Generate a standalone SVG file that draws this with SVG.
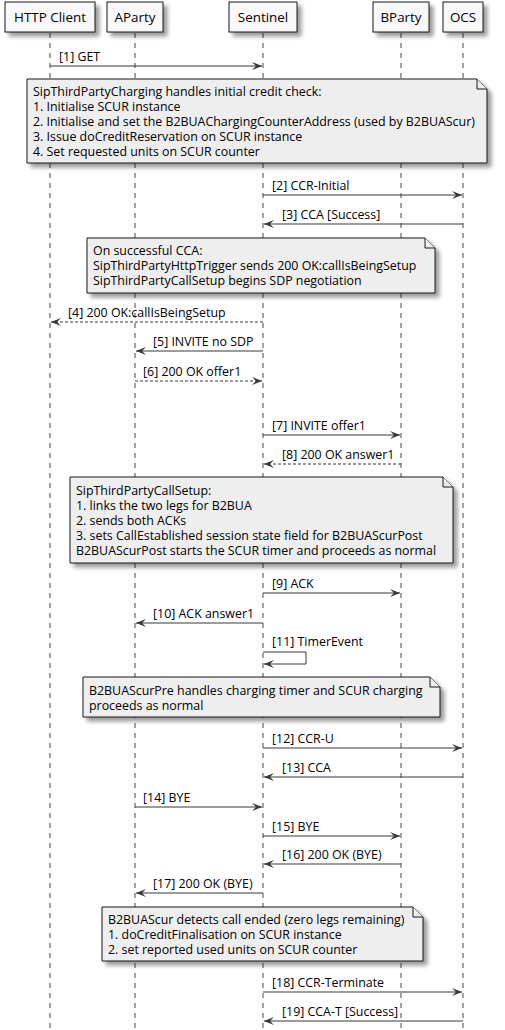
<svg xmlns="http://www.w3.org/2000/svg" width="505" height="1030" viewBox="0 0 505 1030">
<style>
text{font-family:"Open Sans","Noto Sans","DejaVu Sans",sans-serif;fill:#000}
.pt{font-size:13.4px;text-anchor:middle}
.msg{font-size:12.4px}
.nt{font-size:12.4px}
.pbox{fill:#F8F8F8;stroke:#181818;stroke-width:1}
.note{fill:#EEEEEE;stroke:#181818;stroke-width:1}
.life{stroke:#181818;stroke-width:0.8;stroke-dasharray:5,5;fill:none}
.ln{stroke:#383838;stroke-width:1;fill:none}
.dl{stroke:#383838;stroke-width:1;fill:none;stroke-dasharray:3,2}
</style>
<defs>
<filter id="sh" x="-10%" y="-10%" width="130%" height="140%">
<feGaussianBlur in="SourceAlpha" stdDeviation="2"/>
<feOffset dx="4" dy="4" result="b"/>
<feComponentTransfer><feFuncA type="linear" slope="0.4"/></feComponentTransfer>
<feMerge><feMergeNode/><feMergeNode in="SourceGraphic"/></feMerge>
</filter>
<marker id="ar" markerWidth="12" markerHeight="10" refX="10" refY="5" orient="auto" markerUnits="userSpaceOnUse">
<path d="M0,1 L10,5 L0,9 L4,5 Z" fill="#383838"/>
</marker>
</defs>

<g id="lifelines">
<line class="life" x1="50" y1="33" x2="50" y2="1030"/>
<line class="life" x1="135" y1="33" x2="135" y2="1030"/>
<line class="life" x1="263" y1="33" x2="263" y2="1030"/>
<line class="life" x1="401" y1="33" x2="401" y2="1030"/>
<line class="life" x1="463" y1="33" x2="463" y2="1030"/>
</g>

<g id="p-http"><rect class="pbox" filter="url(#sh)" x="5" y="2" width="90" height="30"/><text class="pt" x="50" y="22">HTTP Client</text></g>
<g id="p-aparty"><rect class="pbox" filter="url(#sh)" x="107" y="2" width="56" height="30"/><text class="pt" x="135" y="22">AParty</text></g>
<g id="p-sentinel"><rect class="pbox" filter="url(#sh)" x="229" y="2" width="68" height="30"/><text class="pt" x="263" y="22">Sentinel</text></g>
<g id="p-bparty"><rect class="pbox" filter="url(#sh)" x="373" y="2" width="56" height="30"/><text class="pt" x="401" y="22">BParty</text></g>
<g id="p-ocs"><rect class="pbox" filter="url(#sh)" x="443" y="2" width="40" height="30"/><text class="pt" x="463" y="22">OCS</text></g>

<g id="connectors">
<line class="ln" x1="50" y1="66" x2="262" y2="66" marker-end="url(#ar)"/>
<text class="msg" x="59" y="61">[1] GET</text>

<line class="ln" x1="263" y1="195" x2="462" y2="195" marker-end="url(#ar)"/>
<text class="msg" x="272" y="190">[2] CCR-Initial</text>
<line class="ln" x1="463" y1="224" x2="264" y2="224" marker-end="url(#ar)"/>
<text class="msg" x="282" y="219">[3] CCA [Success]</text>

<line class="dl" x1="263" y1="322" x2="51" y2="322" marker-end="url(#ar)"/>
<text class="msg" x="68" y="317">[4] 200 OK:callIsBeingSetup</text>
<line class="ln" x1="263" y1="351" x2="136" y2="351" marker-end="url(#ar)"/>
<text class="msg" x="153" y="346">[5] INVITE no SDP</text>
<line class="dl" x1="135" y1="381" x2="262" y2="381" marker-end="url(#ar)"/>
<text class="msg" x="143" y="376">[6] 200 OK offer1</text>
<line class="ln" x1="263" y1="435" x2="400" y2="435" marker-end="url(#ar)"/>
<text class="msg" x="272" y="430">[7] INVITE offer1</text>
<line class="dl" x1="401" y1="464" x2="264" y2="464" marker-end="url(#ar)"/>
<text class="msg" x="282" y="459">[8] 200 OK answer1</text>

<line class="ln" x1="263" y1="593" x2="400" y2="593" marker-end="url(#ar)"/>
<text class="msg" x="272" y="588">[9] ACK</text>
<line class="ln" x1="263" y1="623" x2="136" y2="623" marker-end="url(#ar)"/>
<text class="msg" x="153" y="618">[10] ACK answer1</text>
<polyline class="ln" points="263,652 306,652 306,664 264,664" marker-end="url(#ar)"/>
<text class="msg" x="272" y="646">[11] TimerEvent</text>

<line class="ln" x1="263" y1="748" x2="462" y2="748" marker-end="url(#ar)"/>
<text class="msg" x="272" y="743">[12] CCR-U</text>
<line class="ln" x1="463" y1="777" x2="264" y2="777" marker-end="url(#ar)"/>
<text class="msg" x="282" y="772">[13] CCA</text>
<line class="ln" x1="135" y1="807" x2="262" y2="807" marker-end="url(#ar)"/>
<text class="msg" x="143" y="802">[14] BYE</text>
<line class="ln" x1="263" y1="836" x2="400" y2="836" marker-end="url(#ar)"/>
<text class="msg" x="272" y="831">[15] BYE</text>
<line class="ln" x1="401" y1="864" x2="264" y2="864" marker-end="url(#ar)"/>
<text class="msg" x="282" y="859">[16] 200 OK (BYE)</text>
<line class="ln" x1="263" y1="893" x2="136" y2="893" marker-end="url(#ar)"/>
<text class="msg" x="153" y="888">[17] 200 OK (BYE)</text>

<line class="ln" x1="263" y1="992" x2="462" y2="992" marker-end="url(#ar)"/>
<text class="msg" x="272" y="987">[18] CCR-Terminate</text>
<line class="ln" x1="463" y1="1021" x2="264" y2="1021" marker-end="url(#ar)"/>
<text class="msg" x="282" y="1016">[19] CCA-T [Success]</text>
</g>

<g id="note1">
<path class="note" filter="url(#sh)" d="M27,79 L477,79 L487,89 L487,163 L27,163 Z"/>
<path class="note" d="M477,79 L477,89 L487,89"/>
<text class="nt" x="33" y="96">SipThirdPartyCharging handles initial credit check:</text>
<text class="nt" x="33" y="111">1. Initialise SCUR instance</text>
<text class="nt" x="33" y="126">2. Initialise and set the B2BUAChargingCounterAddress (used by B2BUAScur)</text>
<text class="nt" x="33" y="141">3. Issue doCreditReservation on SCUR instance</text>
<text class="nt" x="33" y="156">4. Set requested units on SCUR counter</text>
</g>

<g id="note2">
<path class="note" filter="url(#sh)" d="M87,238 L425,238 L435,248 L435,293 L87,293 Z"/>
<path class="note" d="M425,238 L425,248 L435,248"/>
<text class="nt" x="93" y="255">On successful CCA:</text>
<text class="nt" x="93" y="270">SipThirdPartyHttpTrigger sends 200 OK:callIsBeingSetup</text>
<text class="nt" x="93" y="285">SipThirdPartyCallSetup begins SDP negotiation</text>
</g>

<g id="note3">
<path class="note" filter="url(#sh)" d="M70,477 L443,477 L453,487 L453,563 L70,563 Z"/>
<path class="note" d="M443,477 L443,487 L453,487"/>
<text class="nt" x="76" y="495">SipThirdPartyCallSetup:</text>
<text class="nt" x="76" y="510">1. links the two legs for B2BUA</text>
<text class="nt" x="76" y="525">2. sends both ACKs</text>
<text class="nt" x="76" y="540">3. sets CallEstablished session state field for B2BUAScurPost</text>
<text class="nt" x="76" y="555">B2BUAScurPost starts the SCUR timer and proceeds as normal</text>
</g>

<g id="note4">
<path class="note" filter="url(#sh)" d="M83,677 L430,677 L440,687 L440,717 L83,717 Z"/>
<path class="note" d="M430,677 L430,687 L440,687"/>
<text class="nt" x="89" y="695">B2BUAScurPre handles charging timer and SCUR charging</text>
<text class="nt" x="89" y="710">proceeds as normal</text>
</g>

<g id="note5">
<path class="note" filter="url(#sh)" d="M102,907 L413,907 L423,917 L423,961 L102,961 Z"/>
<path class="note" d="M413,907 L413,917 L423,917"/>
<text class="nt" x="108" y="924">B2BUAScur detects call ended (zero legs remaining)</text>
<text class="nt" x="108" y="939">1. doCreditFinalisation on SCUR instance</text>
<text class="nt" x="108" y="954">2. set reported used units on SCUR counter</text>
</g>
</svg>
